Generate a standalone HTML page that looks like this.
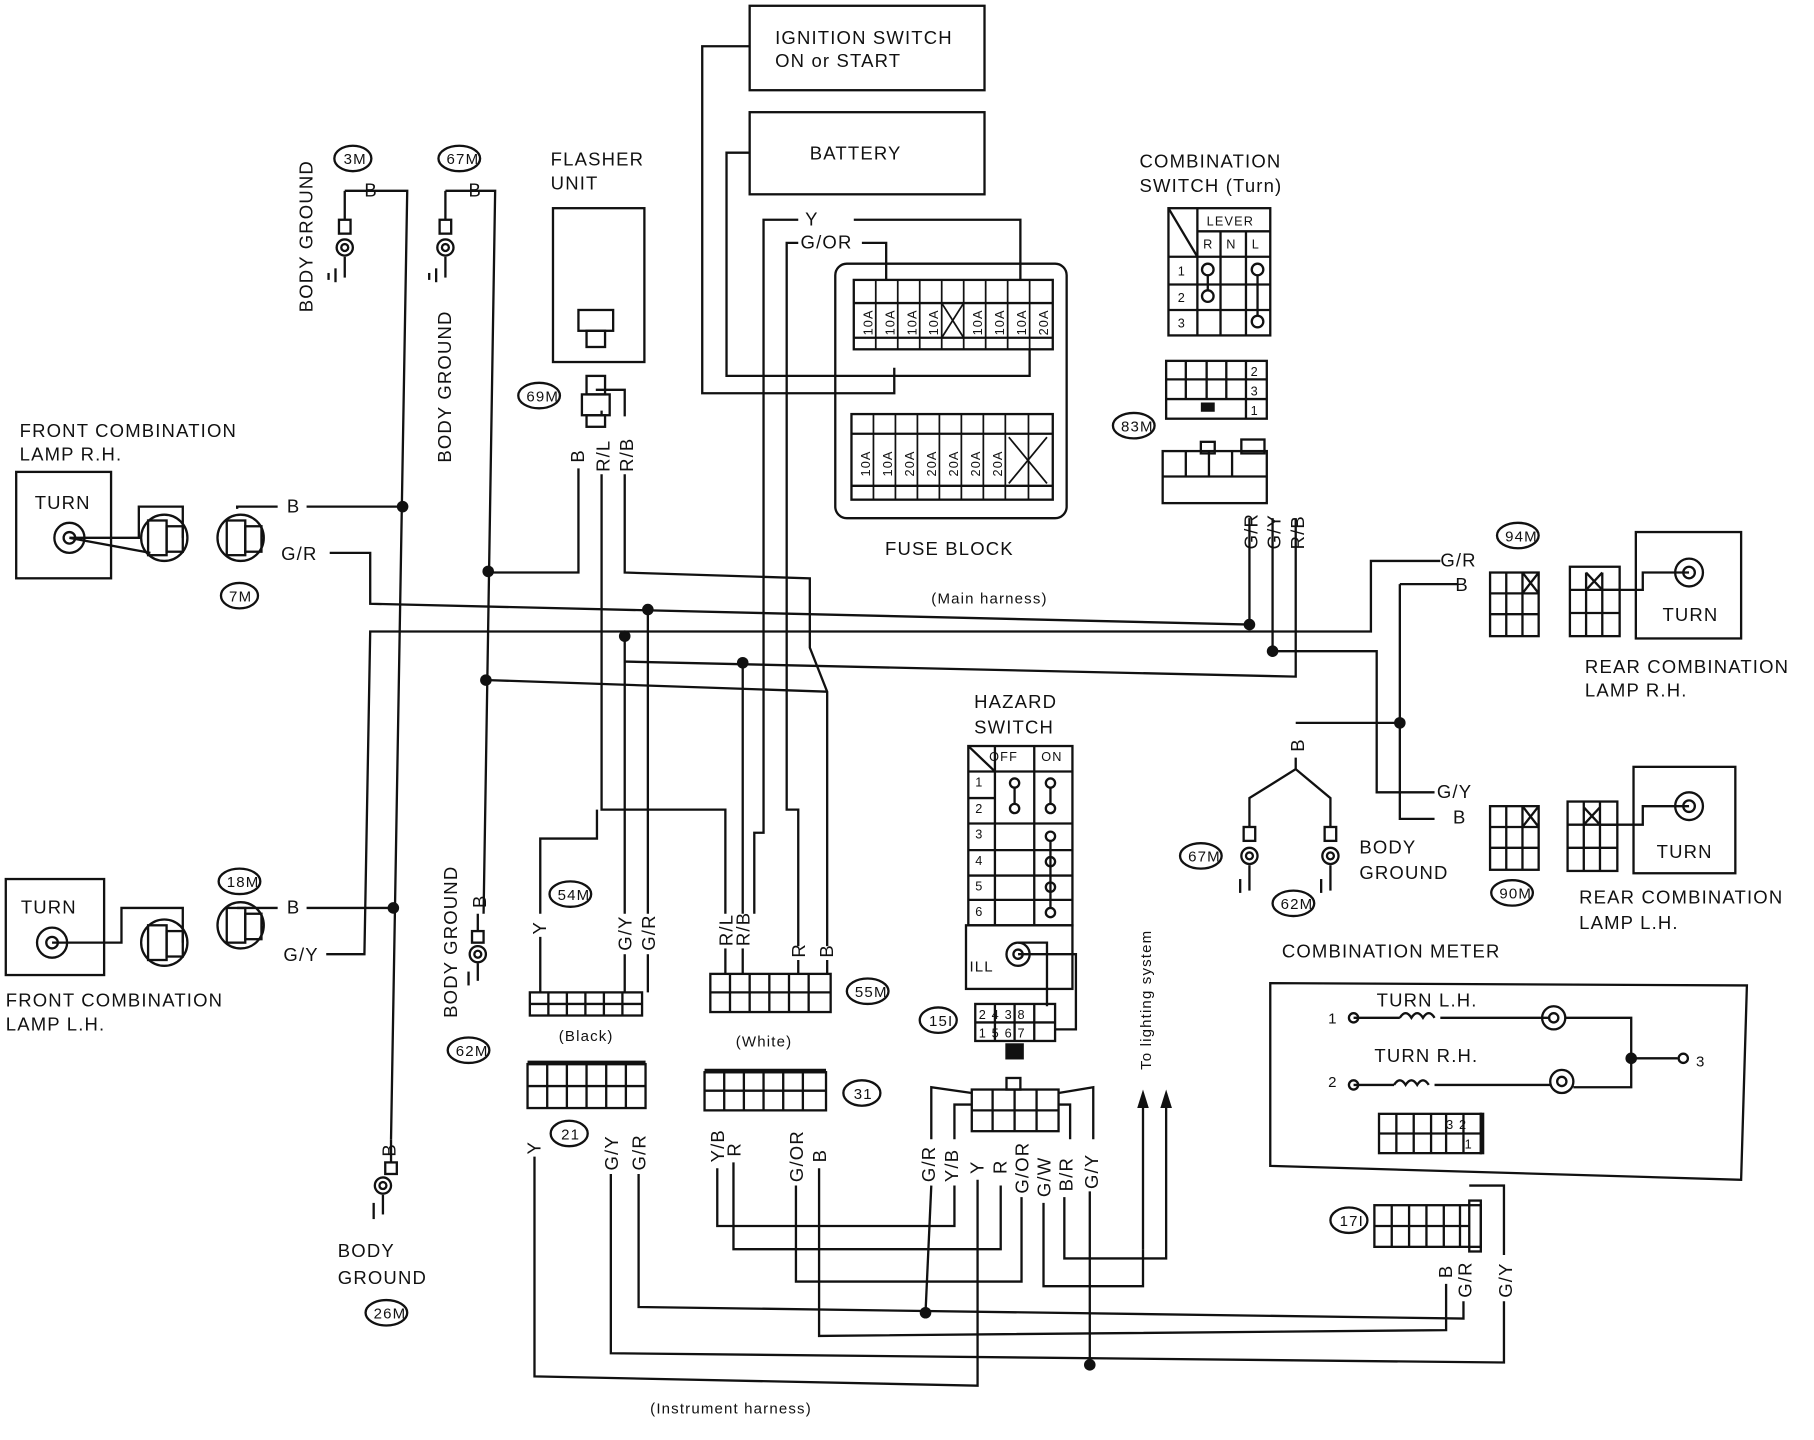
<!DOCTYPE html>
<html><head><meta charset="utf-8"><style>
html,body{margin:0;padding:0;background:#fff;}
svg{display:block;}
text{font-family:"Liberation Sans",sans-serif;font-size:16px;fill:#111;letter-spacing:1px;}
.s{font-size:13px;}
.t{font-size:11px;}
</style></head><body>
<svg width="1814" height="1440" viewBox="0 0 1568 1245" preserveAspectRatio="none" xmlns="http://www.w3.org/2000/svg">
<rect width="1568" height="1245" fill="#fff"/>
<g fill="none" stroke="#111" stroke-width="2">
<!-- ignition / battery -->
<rect x="648" y="5" width="203" height="73"/>
<rect x="648" y="97" width="203" height="71"/>
<polyline points="648,40 607,40 607,340 773,340 773,318"/>
<polyline points="648,132 628,132 628,325 890,325 890,302"/>
<!-- fuse block -->
<rect x="722" y="228" width="200" height="220" rx="10"/>
<rect x="738" y="242" width="172" height="60"/>
<rect x="736" y="358" width="174" height="74"/>
<line x1="738" y1="262" x2="910" y2="262"/><line x1="738" y1="292" x2="910" y2="292"/>
<line x1="736" y1="375" x2="910" y2="375"/><line x1="736" y1="420" x2="910" y2="420"/>
<g stroke-width="1.5">
<line x1="757" y1="242" x2="757" y2="302"/><line x1="776" y1="242" x2="776" y2="302"/><line x1="795" y1="242" x2="795" y2="302"/><line x1="814" y1="242" x2="814" y2="302"/><line x1="833" y1="242" x2="833" y2="302"/><line x1="852" y1="242" x2="852" y2="302"/><line x1="871" y1="242" x2="871" y2="302"/><line x1="890" y1="242" x2="890" y2="302"/>
<line x1="814" y1="262" x2="833" y2="292"/><line x1="833" y1="262" x2="814" y2="292"/>
<line x1="755" y1="358" x2="755" y2="432"/><line x1="774" y1="358" x2="774" y2="432"/><line x1="793" y1="358" x2="793" y2="432"/><line x1="812" y1="358" x2="812" y2="432"/><line x1="831" y1="358" x2="831" y2="432"/><line x1="850" y1="358" x2="850" y2="432"/><line x1="869" y1="358" x2="869" y2="432"/><line x1="889" y1="358" x2="889" y2="432"/>
<line x1="872" y1="378" x2="905" y2="418"/><line x1="905" y1="378" x2="872" y2="418"/>
</g>
<polyline points="738,190 882,190 882,242"/>
<polyline points="745,210 766,210 766,242"/>
<polyline points="690,190 660,190 660,720 652,720 652,790"/>
<polyline points="690,210 680,210 680,700 690,700 690,818"/>
<!-- left body grounds -->
<polyline points="298,165 298,190"/><rect x="293" y="190" width="10" height="12"/><circle cx="298" cy="214" r="7"/><circle cx="298" cy="214" r="3"/>
<line x1="298" y1="222" x2="298" y2="240"/><line x1="290" y1="232" x2="290" y2="244"/><line x1="284" y1="236" x2="284" y2="242"/>
<polyline points="298,165 352,165 338,985"/>
<polyline points="385,165 385,190"/><rect x="380" y="190" width="10" height="12"/><circle cx="385" cy="214" r="7"/><circle cx="385" cy="214" r="3"/>
<line x1="385" y1="222" x2="385" y2="240"/><line x1="377" y1="232" x2="377" y2="244"/><line x1="371" y1="236" x2="371" y2="242"/>
<polyline points="385,165 428,165 418,790"/>
<!-- 62M left -->
<line x1="413" y1="790" x2="413" y2="805"/><rect x="408" y="805" width="10" height="10"/><circle cx="413" cy="825" r="7"/><circle cx="413" cy="825" r="3"/><line x1="413" y1="833" x2="413" y2="848"/><line x1="405" y1="840" x2="405" y2="852"/>
<!-- 26M bottom -->
<line x1="338" y1="985" x2="338" y2="1005"/><rect x="333" y="1005" width="10" height="10"/><circle cx="331" cy="1025" r="7"/><circle cx="331" cy="1025" r="3"/><line x1="331" y1="1033" x2="331" y2="1050"/><line x1="323" y1="1040" x2="323" y2="1054"/>
<!-- Front RH -->
<rect x="14" y="408" width="82" height="92"/>
<circle cx="60" cy="465" r="13"/><circle cx="60" cy="465" r="5"/>
<polyline points="60,465 120,465 120,438 158,438 158,465"/><line x1="60" y1="465" x2="130" y2="478"/>
<circle cx="142" cy="465" r="20"/><rect x="128" y="450" width="16" height="30"/><rect x="144" y="455" width="14" height="22"/>
<circle cx="208" cy="465" r="20"/><rect x="196" y="450" width="16" height="30"/><rect x="212" y="455" width="14" height="22"/>
<polyline points="205,440 205,438 240,438"/><polyline points="265,438 352,438"/>
<polyline points="285,478 320,478 320,522 1080,540 1080,448"/>
<!-- Front LH -->
<rect x="5" y="760" width="85" height="83"/>
<circle cx="45" cy="815" r="13"/><circle cx="45" cy="815" r="5"/>
<polyline points="45,815 105,815 105,785 158,785 158,815"/>
<circle cx="142" cy="815" r="20"/><rect x="128" y="800" width="16" height="30"/><rect x="144" y="805" width="14" height="22"/>
<circle cx="208" cy="800" r="20"/><rect x="196" y="785" width="16" height="30"/><rect x="212" y="790" width="14" height="22"/>
<polyline points="205,785 240,785"/><polyline points="265,785 340,785"/>
<polyline points="282,825 315,825 320,546 1185,546 1185,485 1245,485"/>
<!-- flasher -->
<rect x="478" y="180" width="79" height="133"/>
<rect x="500" y="268" width="30" height="18"/><rect x="507" y="286" width="16" height="14"/>
<rect x="507" y="325" width="16" height="16"/><rect x="503" y="341" width="24" height="18"/><rect x="507" y="359" width="16" height="10"/>
<polyline points="515,337 540,337 540,360"/><line x1="520" y1="355" x2="520" y2="360"/>
<polyline points="500,405 500,495 422,495"/>
<polyline points="520,410 520,700 627,700 627,790"/>
<polyline points="540,410 540,495 700,500 700,560 715,598 715,818"/>
<polyline points="422,588 715,598"/>
<polyline points="540,546 540,790"/>
<polyline points="560,527 560,790"/>
<polyline points="642,573 642,790"/>
<polyline points="540,572 1120,585 1120,448"/>
<line x1="1100" y1="448" x2="1100" y2="563"/>
<polyline points="1100,563 1190,563 1190,685 1240,685"/>
<line x1="1260" y1="505" x2="1210" y2="505"/><polyline points="1210,505 1210,708 1240,708"/>
<line x1="1120" y1="625" x2="1210" y2="625"/>
<polyline points="467,790 467,725 516,725 516,700"/>
<!-- comb switch -->
<rect x="1010" y="180" width="88" height="110"/>
<line x1="1035" y1="180" x2="1035" y2="290"/><line x1="1010" y1="222" x2="1098" y2="222"/><line x1="1010" y1="246" x2="1098" y2="246"/><line x1="1010" y1="268" x2="1098" y2="268"/>
<line x1="1035" y1="200" x2="1098" y2="200"/><line x1="1055" y1="200" x2="1055" y2="290"/><line x1="1077" y1="200" x2="1077" y2="290"/><line x1="1010" y1="180" x2="1035" y2="222"/>
<circle cx="1044" cy="233" r="5"/><circle cx="1044" cy="256" r="5"/><line x1="1044" y1="238" x2="1044" y2="251"/>
<circle cx="1087" cy="233" r="5"/><circle cx="1087" cy="278" r="5"/><line x1="1087" y1="238" x2="1087" y2="273"/>
<rect x="1008" y="312" width="87" height="50"/><line x1="1008" y1="328" x2="1095" y2="328"/><line x1="1008" y1="345" x2="1095" y2="345"/>
<line x1="1025" y1="312" x2="1025" y2="345"/><line x1="1043" y1="312" x2="1043" y2="345"/><line x1="1060" y1="312" x2="1060" y2="345"/><line x1="1077" y1="312" x2="1077" y2="362"/>
<rect x="1005" y="390" width="90" height="45"/><line x1="1005" y1="412" x2="1095" y2="412"/><line x1="1025" y1="390" x2="1025" y2="412"/><line x1="1045" y1="390" x2="1045" y2="412"/><line x1="1065" y1="390" x2="1065" y2="412"/>
<rect x="1038" y="382" width="12" height="10"/><rect x="1073" y="380" width="20" height="12"/>
<!-- rear RH -->
<rect x="1288" y="495" width="42" height="55"/><line x1="1288" y1="513" x2="1330" y2="513"/><line x1="1288" y1="531" x2="1330" y2="531"/><line x1="1302" y1="495" x2="1302" y2="550"/><line x1="1316" y1="495" x2="1316" y2="550"/>
<line x1="1316" y1="495" x2="1330" y2="513"/><line x1="1330" y1="495" x2="1316" y2="513"/>
<rect x="1357" y="490" width="43" height="60"/><line x1="1357" y1="510" x2="1400" y2="510"/><line x1="1357" y1="530" x2="1400" y2="530"/><line x1="1371" y1="495" x2="1371" y2="550"/><line x1="1385" y1="495" x2="1385" y2="550"/>
<line x1="1371" y1="495" x2="1385" y2="510"/><line x1="1385" y1="495" x2="1371" y2="510"/>
<rect x="1414" y="460" width="91" height="92"/><circle cx="1460" cy="495" r="12"/><circle cx="1460" cy="495" r="5"/>
<polyline points="1460,495 1420,495 1420,510 1385,510"/>
<!-- rear LH -->
<rect x="1288" y="697" width="42" height="55"/><line x1="1288" y1="715" x2="1330" y2="715"/><line x1="1288" y1="733" x2="1330" y2="733"/><line x1="1302" y1="697" x2="1302" y2="752"/><line x1="1316" y1="697" x2="1316" y2="752"/>
<line x1="1316" y1="697" x2="1330" y2="715"/><line x1="1330" y1="697" x2="1316" y2="715"/>
<rect x="1355" y="693" width="43" height="60"/><line x1="1355" y1="713" x2="1398" y2="713"/><line x1="1355" y1="733" x2="1398" y2="733"/><line x1="1369" y1="693" x2="1369" y2="753"/><line x1="1383" y1="693" x2="1383" y2="753"/>
<line x1="1369" y1="698" x2="1383" y2="713"/><line x1="1383" y1="698" x2="1369" y2="713"/>
<rect x="1412" y="663" width="88" height="92"/><circle cx="1460" cy="697" r="12"/><circle cx="1460" cy="697" r="5"/>
<polyline points="1460,697 1420,697 1420,713 1383,713"/>
<!-- body ground right -->
<polyline points="1120,655 1120,665 1080,690 1080,715"/><polyline points="1120,665 1150,690 1150,715"/>
<rect x="1075" y="715" width="10" height="12"/><circle cx="1080" cy="740" r="7"/><circle cx="1080" cy="740" r="3"/><line x1="1080" y1="748" x2="1080" y2="770"/><line x1="1072" y1="760" x2="1072" y2="772"/>
<rect x="1145" y="715" width="10" height="12"/><circle cx="1150" cy="740" r="7"/><circle cx="1150" cy="740" r="3"/><line x1="1150" y1="748" x2="1150" y2="770"/><line x1="1142" y1="760" x2="1142" y2="772"/>
<!-- hazard -->
<rect x="837" y="645" width="90" height="155"/>
<line x1="860" y1="645" x2="860" y2="800"/><line x1="894" y1="645" x2="894" y2="800"/><line x1="837" y1="667" x2="927" y2="667"/><line x1="837" y1="645" x2="860" y2="667"/>
<line x1="837" y1="690" x2="860" y2="690"/><line x1="837" y1="712" x2="927" y2="712"/><line x1="837" y1="735" x2="927" y2="735"/><line x1="837" y1="757" x2="927" y2="757"/><line x1="837" y1="778" x2="927" y2="778"/>
<circle cx="877" cy="677" r="4"/><circle cx="877" cy="699" r="4"/><line x1="877" y1="681" x2="877" y2="695"/>
<circle cx="908" cy="677" r="4"/><circle cx="908" cy="699" r="4"/><line x1="908" y1="681" x2="908" y2="695"/>
<circle cx="908" cy="723" r="4"/><circle cx="908" cy="745" r="4"/><circle cx="908" cy="767" r="4"/><circle cx="908" cy="789" r="4"/><line x1="908" y1="727" x2="908" y2="785"/>
<rect x="835" y="800" width="92" height="55"/><circle cx="880" cy="825" r="10"/><circle cx="880" cy="825" r="4"/>
<polyline points="880,825 930,825 930,890 912,890"/><polyline points="880,815 905,815 905,870"/>
<rect x="843" y="868" width="69" height="32"/><line x1="843" y1="884" x2="912" y2="884"/><line x1="860" y1="868" x2="860" y2="900"/><line x1="877" y1="868" x2="877" y2="900"/><line x1="894" y1="868" x2="894" y2="900"/>
<rect x="870" y="903" width="14" height="12" fill="#111"/>
<!-- arrows -->
<line x1="988" y1="1080" x2="988" y2="955"/><line x1="1008" y1="1085" x2="1008" y2="955"/>
<!-- 54M/55M -->
<rect x="458" y="858" width="97" height="20"/><line x1="474" y1="858" x2="474" y2="878"/><line x1="490" y1="858" x2="490" y2="878"/><line x1="506" y1="858" x2="506" y2="878"/><line x1="522" y1="858" x2="522" y2="878"/><line x1="538" y1="858" x2="538" y2="878"/>
<line x1="458" y1="868" x2="555" y2="868"/>
<rect x="614" y="842" width="104" height="33"/><line x1="614" y1="858" x2="718" y2="858"/><line x1="631" y1="842" x2="631" y2="875"/><line x1="648" y1="842" x2="648" y2="875"/><line x1="665" y1="842" x2="665" y2="875"/><line x1="682" y1="842" x2="682" y2="875"/><line x1="699" y1="842" x2="699" y2="875"/>
<!-- 21 / 31 -->
<rect x="456" y="920" width="102" height="38"/><line x1="456" y1="939" x2="558" y2="939"/><line x1="473" y1="920" x2="473" y2="958"/><line x1="490" y1="920" x2="490" y2="958"/><line x1="507" y1="920" x2="507" y2="958"/><line x1="524" y1="920" x2="524" y2="958"/><line x1="541" y1="920" x2="541" y2="958"/>
<line x1="456" y1="919" x2="558" y2="919" stroke-width="4"/>
<rect x="609" y="927" width="105" height="33"/><line x1="609" y1="943" x2="714" y2="943"/><line x1="626" y1="927" x2="626" y2="960"/><line x1="643" y1="927" x2="643" y2="960"/><line x1="660" y1="927" x2="660" y2="960"/><line x1="677" y1="927" x2="677" y2="960"/><line x1="694" y1="927" x2="694" y2="960"/>
<line x1="609" y1="926" x2="714" y2="926" stroke-width="4"/>
<rect x="840" y="942" width="75" height="36"/><line x1="840" y1="960" x2="915" y2="960"/><line x1="858" y1="942" x2="858" y2="978"/><line x1="877" y1="942" x2="877" y2="978"/><line x1="896" y1="942" x2="896" y2="978"/>
<rect x="870" y="932" width="12" height="10"/>
<polyline points="840,945 805,940 805,985"/><polyline points="840,955 825,955 825,985"/>
<polyline points="915,945 945,940 945,985"/><polyline points="915,955 925,955 925,985"/>
<!-- wires from 54M/55M -->
<line x1="467" y1="810" x2="467" y2="858"/><line x1="540" y1="825" x2="540" y2="858"/><line x1="560" y1="825" x2="560" y2="858"/>
<line x1="627" y1="820" x2="627" y2="842"/><line x1="642" y1="820" x2="642" y2="842"/><line x1="690" y1="830" x2="690" y2="842"/><line x1="715" y1="830" x2="715" y2="842"/>
<!-- bottom wiring -->
<polyline points="462,1000 462,1190 845,1198 845,1020"/>
<polyline points="528,1015 528,1170 1300,1178 1300,1125"/>
<polyline points="552,1015 552,1130 1265,1140 1265,1125"/>
<polyline points="620,1010 620,1060 825,1060 825,1025"/>
<polyline points="634,1005 634,1080 865,1080 865,1025"/>
<polyline points="688,1025 688,1108 883,1108 883,1035"/>
<polyline points="708,1010 708,1155 1250,1150 1250,1110"/>
<polyline points="902,1040 902,1112 988,1112 988,1080"/>
<polyline points="920,1035 920,1088 1008,1088 1008,1085"/>
<line x1="805" y1="1025" x2="800" y2="1135"/><line x1="942" y1="1030" x2="942" y2="1180"/>
<!-- comb meter -->
<polygon points="1098,850 1510,852 1505,1020 1098,1008"/>
<line x1="1170" y1="880" x2="1210" y2="880"/><path d="M1210,880 q5,-8 10,0 q5,-8 10,0 q5,-8 10,0"/><polyline points="1245,880 1340,880"/>
<circle cx="1343" cy="880" r="10"/><circle cx="1343" cy="880" r="4"/><polyline points="1353,880 1410,880 1410,940 1360,940"/>
<line x1="1170" y1="938" x2="1205" y2="938"/><path d="M1205,938 q5,-8 10,0 q5,-8 10,0 q5,-8 10,0"/><polyline points="1240,938 1340,938"/>
<circle cx="1350" cy="935" r="10"/><circle cx="1350" cy="935" r="4"/>
<line x1="1410" y1="915" x2="1450" y2="915"/><circle cx="1455" cy="915" r="4"/>
<circle cx="1170" cy="880" r="4"/><circle cx="1170" cy="938" r="4"/>
<rect x="1192" y="963" width="88" height="34"/><line x1="1192" y1="980" x2="1280" y2="980"/><line x1="1207" y1="963" x2="1207" y2="997"/><line x1="1222" y1="963" x2="1222" y2="997"/><line x1="1237" y1="963" x2="1237" y2="997"/><line x1="1250" y1="963" x2="1250" y2="997"/><line x1="1265" y1="963" x2="1265" y2="997"/>
<line x1="1281" y1="962" x2="1281" y2="998" stroke-width="4"/>
<rect x="1188" y="1042" width="92" height="36"/><line x1="1188" y1="1060" x2="1270" y2="1060"/><line x1="1203" y1="1042" x2="1203" y2="1078"/><line x1="1218" y1="1042" x2="1218" y2="1078"/><line x1="1233" y1="1042" x2="1233" y2="1078"/><line x1="1248" y1="1042" x2="1248" y2="1078"/><line x1="1262" y1="1042" x2="1262" y2="1078"/>
<rect x="1270" y="1038" width="10" height="44"/>
<polyline points="1270,1025 1300,1025 1300,1085"/>
<!-- ovals -->
<ellipse cx="305" cy="137" rx="16" ry="11"/><ellipse cx="397" cy="137" rx="18" ry="11"/>
<ellipse cx="207" cy="515" rx="16" ry="11"/><ellipse cx="207" cy="762" rx="18" ry="11"/>
<ellipse cx="466" cy="342" rx="18" ry="11"/><ellipse cx="980" cy="368" rx="18" ry="11"/>
<ellipse cx="1312" cy="463" rx="18" ry="11"/><ellipse cx="1307" cy="772" rx="18" ry="11"/>
<ellipse cx="1038" cy="740" rx="18" ry="11"/><ellipse cx="1118" cy="781" rx="18" ry="11"/>
<ellipse cx="493" cy="773" rx="18" ry="11"/><ellipse cx="750" cy="857" rx="18" ry="11"/>
<ellipse cx="405" cy="908" rx="18" ry="11"/><ellipse cx="492" cy="980" rx="16" ry="11"/>
<ellipse cx="745" cy="945" rx="16" ry="11"/><ellipse cx="811" cy="882" rx="16" ry="11"/>
<ellipse cx="1166" cy="1055" rx="16" ry="11"/><ellipse cx="334" cy="1135" rx="18" ry="11"/>
</g>
<g fill="#111">
<circle cx="348" cy="438" r="5"/><circle cx="422" cy="494" r="5"/><circle cx="420" cy="588" r="5"/><circle cx="340" cy="785" r="5"/>
<circle cx="560" cy="527" r="5"/><circle cx="540" cy="550" r="5"/><circle cx="642" cy="573" r="5"/>
<circle cx="1080" cy="540" r="5"/><circle cx="1100" cy="563" r="5"/><circle cx="1210" cy="625" r="5"/>
<circle cx="800" cy="1135" r="5"/><circle cx="942" cy="1180" r="5"/><circle cx="1410" cy="915" r="5"/>
<polygon points="988,942 983,958 993,958"/><polygon points="1008,942 1003,958 1013,958"/>
<rect x="1038" y="348" width="12" height="8"/>
</g>
<text x="670" y="38">IGNITION SWITCH</text><text x="670" y="58">ON or START</text>
<text x="700" y="138">BATTERY</text>
<text x="476" y="143">FLASHER</text><text x="476" y="164">UNIT</text>
<text x="985" y="145">COMBINATION</text><text x="985" y="166">SWITCH (Turn)</text>
<text x="17" y="378">FRONT COMBINATION</text><text x="17" y="398">LAMP R.H.</text>
<text x="30" y="440">TURN</text><text x="18" y="790">TURN</text>
<text x="5" y="870">FRONT COMBINATION</text><text x="5" y="891">LAMP L.H.</text>
<text x="765" y="480">FUSE BLOCK</text>
<text x="805" y="522" class="s">(Main harness)</text>
<text x="1437" y="537">TURN</text><text x="1432" y="742">TURN</text>
<text x="1370" y="582">REAR COMBINATION</text><text x="1370" y="602">LAMP R.H.</text>
<text x="1365" y="781">REAR COMBINATION</text><text x="1365" y="803">LAMP L.H.</text>
<text x="1175" y="738">BODY</text><text x="1175" y="760">GROUND</text>
<text x="842" y="612">HAZARD</text><text x="842" y="634">SWITCH</text>
<text x="1108" y="828">COMBINATION METER</text>
<text x="1190" y="870">TURN L.H.</text><text x="1188" y="918">TURN R.H.</text>
<text x="1148" y="885" class="s">1</text><text x="1148" y="940" class="s">2</text><text x="1466" y="922" class="s">3</text>
<text x="292" y="1087">BODY</text><text x="292" y="1110">GROUND</text>
<text x="483" y="900" class="s">(Black)</text><text x="636" y="905" class="s">(White)</text>
<text x="562" y="1222" class="s">(Instrument harness)</text>
<text x="696" y="195">Y</text><text x="692" y="215">G/OR</text>
<text x="315" y="170">B</text><text x="405" y="170">B</text>
<text x="248" y="443">B</text><text x="243" y="484">G/R</text>
<text x="248" y="790">B</text><text x="245" y="831">G/Y</text>
<text x="1245" y="490">G/R</text><text x="1258" y="511">B</text>
<text x="1242" y="690">G/Y</text><text x="1256" y="712">B</text>
<text x="855" y="658" class="t">OFF</text><text x="900" y="658" class="t">ON</text>
<text x="843" y="680" class="t">1</text><text x="843" y="703" class="t">2</text><text x="843" y="725" class="t">3</text><text x="843" y="748" class="t">4</text><text x="843" y="770" class="t">5</text><text x="843" y="792" class="t">6</text>
<text x="838" y="840" class="s">ILL</text>
<text x="846" y="881" class="t">2 4 3 8</text><text x="846" y="897" class="t">1 5 6 7</text>
<text x="1043" y="195" class="t">LEVER</text><text x="1040" y="215" class="t">R</text><text x="1060" y="215" class="t">N</text><text x="1082" y="215" class="t">L</text>
<text x="1018" y="238" class="t">1</text><text x="1018" y="261" class="t">2</text><text x="1018" y="283" class="t">3</text>
<text x="1081" y="325" class="t">2</text><text x="1081" y="342" class="t">3</text><text x="1081" y="359" class="t">1</text>
<text x="1250" y="976" class="t">3 2</text><text x="1266" y="993" class="t">1</text>
<g class="s">
<text x="297" y="142" class="s">3M</text><text x="386" y="142" class="s">67M</text><text x="198" y="520" class="s">7M</text><text x="196" y="767" class="s">18M</text>
<text x="455" y="347" class="s">69M</text><text x="969" y="373" class="s">83M</text><text x="1301" y="468" class="s">94M</text><text x="1296" y="777" class="s">90M</text>
<text x="1027" y="745" class="s">67M</text><text x="1107" y="786" class="s">62M</text><text x="482" y="778" class="s">54M</text><text x="739" y="862" class="s">55M</text>
<text x="394" y="913" class="s">62M</text><text x="485" y="985" class="s">21</text><text x="738" y="950" class="s">31</text><text x="803" y="887" class="s">15I</text>
<text x="1158" y="1060" class="s">17I</text><text x="323" y="1140" class="s">26M</text>
</g>
<g>
<text transform="translate(270,270) rotate(-90)">BODY GROUND</text>
<text transform="translate(390,400) rotate(-90)">BODY GROUND</text>
<text transform="translate(395,880) rotate(-90)">BODY GROUND</text>
<text transform="translate(995,925) rotate(-90)" class="s">To lighting system</text>
<text transform="translate(505,400) rotate(-90)">B</text><text transform="translate(527,408) rotate(-90)">R/L</text><text transform="translate(547,408) rotate(-90)">R/B</text>
<text transform="translate(1087,475) rotate(-90)">G/R</text><text transform="translate(1107,475) rotate(-90)">G/Y</text><text transform="translate(1127,475) rotate(-90)">R/B</text>
<text transform="translate(1127,650) rotate(-90)">B</text>
<text transform="translate(420,785) rotate(-90)">B</text>
<text transform="translate(342,1000) rotate(-90)">B</text>
<text transform="translate(472,808) rotate(-90)">Y</text><text transform="translate(546,822) rotate(-90)">G/Y</text><text transform="translate(566,822) rotate(-90)">G/R</text>
<text transform="translate(633,818) rotate(-90)">R/L</text><text transform="translate(648,818) rotate(-90)">R/B</text><text transform="translate(696,828) rotate(-90)">R</text><text transform="translate(720,828) rotate(-90)">B</text>
<text transform="translate(467,998) rotate(-90)">Y</text><text transform="translate(534,1012) rotate(-90)">G/Y</text><text transform="translate(558,1012) rotate(-90)">G/R</text>
<text transform="translate(626,1005) rotate(-90)">Y/B</text><text transform="translate(640,1000) rotate(-90)">R</text><text transform="translate(694,1022) rotate(-90)">G/OR</text><text transform="translate(714,1005) rotate(-90)">B</text>
<text transform="translate(808,1022) rotate(-90)">G/R</text><text transform="translate(828,1022) rotate(-90)">Y/B</text><text transform="translate(850,1015) rotate(-90)">Y</text><text transform="translate(870,1015) rotate(-90)">R</text>
<text transform="translate(889,1032) rotate(-90)">G/OR</text><text transform="translate(908,1035) rotate(-90)">G/W</text><text transform="translate(927,1030) rotate(-90)">B/R</text><text transform="translate(949,1028) rotate(-90)">G/Y</text>
<text transform="translate(1255,1105) rotate(-90)">B</text><text transform="translate(1272,1122) rotate(-90)">G/R</text><text transform="translate(1307,1122) rotate(-90)">G/Y</text>
</g>
<g class="t">
<text transform="translate(754,290) rotate(-90)" class="t">10A</text><text transform="translate(773,290) rotate(-90)" class="t">10A</text><text transform="translate(792,290) rotate(-90)" class="t">10A</text><text transform="translate(811,290) rotate(-90)" class="t">10A</text>
<text transform="translate(849,290) rotate(-90)" class="t">10A</text><text transform="translate(868,290) rotate(-90)" class="t">10A</text><text transform="translate(887,290) rotate(-90)" class="t">10A</text><text transform="translate(906,290) rotate(-90)" class="t">20A</text>
<text transform="translate(752,412) rotate(-90)" class="t">10A</text><text transform="translate(771,412) rotate(-90)" class="t">10A</text><text transform="translate(790,412) rotate(-90)" class="t">20A</text><text transform="translate(809,412) rotate(-90)" class="t">20A</text>
<text transform="translate(828,412) rotate(-90)" class="t">20A</text><text transform="translate(847,412) rotate(-90)" class="t">20A</text><text transform="translate(866,412) rotate(-90)" class="t">20A</text>
</g>
</svg>
</body></html>
